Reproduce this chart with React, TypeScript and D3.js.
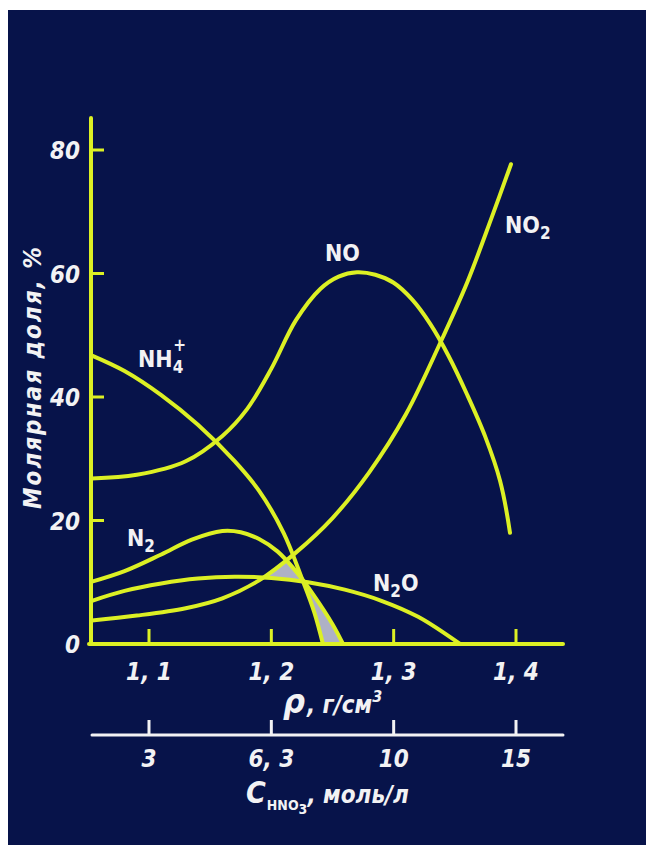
import React, { useEffect, useRef } from "react";
import * as d3 from "d3";

const W = 654;
const H = 853;

// ---- data (density, g/cm3 ; molar fraction, %) ----
const densityTicks = [1.1, 1.2, 1.3, 1.4];
const densityTickLabels = ["1, 1", "1, 2", "1, 3", "1, 4"];
const molarTicks = [20, 40, 60, 80];
const molarTickLabels = ["0", "20", "40", "60", "80"];
const concTickLabels = ["3", "6, 3", "10", "15"];
const concTickDensity = [1.1, 1.2, 1.3, 1.4];

const seriesNO: [number, number][] = [
  [1.0534, 26.8], [1.09, 27.4], [1.13, 29.6], [1.16, 33.7], [1.18, 38.0], [1.2, 44.6],
  [1.22, 52.4], [1.24, 57.5], [1.255, 59.5], [1.27, 60.2], [1.285, 59.8], [1.3, 58.5],
  [1.315, 55.8], [1.33, 51.8], [1.345, 46.6], [1.36, 40.4], [1.375, 33.5], [1.387, 26.4], [1.3951, 18.0],
];
const seriesNO2: [number, number][] = [
  [1.0534, 3.8], [1.09, 4.6], [1.13, 5.8], [1.16, 7.4], [1.19, 10.3], [1.22, 14.8],
  [1.25, 20.4], [1.28, 27.8], [1.31, 37.2], [1.34, 49.6], [1.36, 58.5], [1.38, 69.0], [1.3959, 77.7],
];
const seriesNH4: [number, number][] = [
  [1.0534, 46.7], [1.08, 44.2], [1.11, 40.3], [1.14, 35.5], [1.17, 29.6], [1.19, 24.8],
  [1.21, 18.0], [1.225, 10.6], [1.235, 5.2], [1.2422, 0],
];
const seriesN2: [number, number][] = [
  [1.0534, 10.1], [1.08, 11.8], [1.11, 14.5], [1.135, 16.9], [1.16, 18.3], [1.175, 18.1],
  [1.19, 17.0], [1.205, 15.0], [1.22, 11.8], [1.235, 7.8], [1.25, 3.2], [1.2586, 0],
];
const seriesN2O: [number, number][] = [
  [1.0534, 7.0], [1.08, 8.6], [1.11, 9.8], [1.14, 10.6], [1.17, 10.9], [1.2, 10.7],
  [1.23, 10.0], [1.26, 8.8], [1.29, 7.0], [1.32, 4.4], [1.3542, 0],
];

const curves = [
  { key: "NO", data: seriesNO },
  { key: "NO2", data: seriesNO2 },
  { key: "NH4", data: seriesNH4 },
  { key: "N2", data: seriesN2 },
  { key: "N2O", data: seriesN2O },
];

const BG = "#07134a";
const YELLOW = "#dcf024";
const WHITE = "#f2f2f4";
const GRAY = "#aeb1c6";
const FONT = "'DejaVu Sans Condensed', 'DejaVu Sans', 'Liberation Sans', sans-serif";

export default function App() {
  const svgRef = useRef<SVGSVGElement>(null);

  const x = d3.scaleLinear().domain([1.1, 1.4]).range([149, 516]);
  const y = d3.scaleLinear().domain([0, 80]).range([644, 150]);
  const axisY = y(0);
  const axisLeft = 91;
  const axisRight = 563;
  const yTop = 118;
  const concY = 735;

  const line = d3
    .line<[number, number]>()
    .x((d) => x(d[0]))
    .y((d) => y(d[1]))
    .curve(d3.curveCatmullRom.alpha(0.5));

  useEffect(() => {
    const svg = d3.select(svgRef.current);
    const samplers: Record<string, (px: number) => number> = {};
    curves.forEach((c) => {
      const node = svg.select<SVGPathElement>(`#curve-${c.key}`).node();
      if (!node) return;
      const L = node.getTotalLength();
      const pts = d3.range(0, 1201).map((i) => {
        const p = node.getPointAtLength((L * i) / 1200);
        return [p.x, p.y] as [number, number];
      });
      pts.sort((a, b) => a[0] - b[0]);
      const bis = d3.bisector((d: [number, number]) => d[0]).left;
      samplers[c.key] = (px: number) => {
        if (px < pts[0][0] || px > pts[pts.length - 1][0]) return NaN;
        const i = Math.max(1, Math.min(pts.length - 1, bis(pts, px)));
        const a = pts[i - 1], b = pts[i];
        const t = b[0] === a[0] ? 0 : (px - a[0]) / (b[0] - a[0]);
        return a[1] + (b[1] - a[1]) * t;
      };
    });
    const xs = d3.range(x(1.17), x(1.27), 0.25);
    const upper = xs.map((px) => {
      const bottom = samplers.N2O(px);
      const top = Math.max(samplers.NO2(px), samplers.N2(px), samplers.NH4(px));
      return { px, y0: bottom, y1: top, ok: top < bottom };
    });
    const lower = xs.map((px) => {
      const nh = samplers.NH4(px);
      const bottom = isNaN(nh) ? axisY : Math.min(axisY, nh);
      const n2 = samplers.N2(px);
      const top = Math.max(n2, samplers.N2O(px));
      return { px, y0: bottom, y1: top, ok: !isNaN(n2) && top < bottom };
    });
    const area = d3
      .area<{ px: number; y0: number; y1: number; ok: boolean }>()
      .defined((d) => d.ok)
      .x((d) => d.px)
      .y0((d) => d.y0)
      .y1((d) => d.y1);
    svg.select("#fill-upper").attr("d", area(upper));
    svg.select("#fill-lower").attr("d", area(lower));
  }, []);

  const labelStyle = { fontFamily: FONT, fontWeight: 700, fill: WHITE } as const;
  const tickStyle = {
    fontFamily: FONT,
    fontWeight: 700,
    fontStyle: "italic",
    fill: WHITE,
    fontSize: 24,
  } as const;

  return (
    <svg
      ref={svgRef}
      width={W}
      height={H}
      style={{ position: "absolute", left: 0, top: 0 }}
    >
      <rect x={0} y={0} width={W} height={H} fill="#ffffff" />
      <rect x={8} y={10} width={638} height={835} fill={BG} />

      {/* fills */}
      <path id="fill-upper" fill={GRAY} />
      <path id="fill-lower" fill={GRAY} />

      {/* curves */}
      {curves.map((c) => (
        <path
          key={c.key}
          id={`curve-${c.key}`}
          d={line(c.data) || ""}
          fill="none"
          stroke={YELLOW}
          strokeWidth={4}
          strokeLinecap="round"
          strokeLinejoin="round"
        />
      ))}

      {/* main axes */}
      <line x1={axisLeft} y1={yTop} x2={axisLeft} y2={axisY} stroke={YELLOW} strokeWidth={4} strokeLinecap="round" />
      <line x1={axisLeft - 2} y1={axisY} x2={axisRight} y2={axisY} stroke={YELLOW} strokeWidth={4} strokeLinecap="round" />
      {molarTicks.map((v) => (
        <line key={v} x1={axisLeft} y1={y(v)} x2={axisLeft + 13} y2={y(v)} stroke={YELLOW} strokeWidth={3} />
      ))}
      {densityTicks.map((v) => (
        <line key={v} x1={x(v)} y1={axisY} x2={x(v)} y2={axisY - 15} stroke={YELLOW} strokeWidth={3} />
      ))}

      {/* y tick labels */}
      {[0, ...molarTicks].map((v, i) => (
        <text key={v} x={80} y={y(v) + 9} textAnchor="end" style={tickStyle}>
          {molarTickLabels[i]}
        </text>
      ))}

      {/* x tick labels */}
      {densityTicks.map((v, i) => (
        <text key={v} x={x(v)} y={680} textAnchor="middle" style={tickStyle}>
          {densityTickLabels[i]}
        </text>
      ))}

      {/* density axis title */}
      <text x={283} y={713} style={{ ...tickStyle, fontWeight: 700 }}>
        <tspan fontSize={34}>ρ</tspan>
        <tspan fontSize={24} dx={2}>, г/см</tspan>
        <tspan fontSize={16} dy={-11}>3</tspan>
      </text>

      {/* concentration axis */}
      <line x1={92} y1={concY} x2={axisRight} y2={concY} stroke={WHITE} strokeWidth={3} strokeLinecap="round" />
      {concTickDensity.map((v) => (
        <line key={v} x1={x(v)} y1={concY} x2={x(v)} y2={concY - 15} stroke={WHITE} strokeWidth={3} />
      ))}
      {concTickDensity.map((v, i) => (
        <text key={v} x={x(v)} y={767} textAnchor="middle" style={tickStyle}>
          {concTickLabels[i]}
        </text>
      ))}
      <text x={246} y={803} style={tickStyle}>
        <tspan fontSize={30}>C</tspan>
        <tspan fontSize={14} fontStyle="normal" dy={7} dx={1}>HNO</tspan>
        <tspan fontSize={14} fontStyle="normal" dy={4}>3</tspan>
        <tspan fontSize={24} dy={-11}>, моль/л</tspan>
      </text>

      {/* y axis title */}
      <text
        transform={`translate(41, ${378}) rotate(-90)`}
        textAnchor="middle"
        style={{ ...tickStyle, fontSize: 24 }}
        textLength={262}
        lengthAdjust="spacing"
      >
        Молярная  доля,  %
      </text>

      {/* series labels */}
      <text x={x(1.091)} y={y(44.8)} style={{ ...labelStyle, fontSize: 23 }}>
        NH<tspan fontSize={17} dy={6}>4</tspan>
        <tspan fontSize={17} dx={-10} dy={-22}>+</tspan>
      </text>
      <text x={x(1.082)} y={y(15.9)} style={{ ...labelStyle, fontSize: 23 }}>
        N<tspan fontSize={17} dy={6}>2</tspan>
      </text>
      <text x={x(1.2831)} y={y(8.6)} style={{ ...labelStyle, fontSize: 23 }}>
        N<tspan fontSize={17} dy={6}>2</tspan>
        <tspan dy={-6}>O</tspan>
      </text>
      <text x={x(1.2439)} y={y(62.1)} style={{ ...labelStyle, fontSize: 23 }}>
        NO
      </text>
      <text x={x(1.391)} y={y(66.5)} style={{ ...labelStyle, fontSize: 23 }}>
        NO<tspan fontSize={17} dy={6}>2</tspan>
      </text>
    </svg>
  );
}
